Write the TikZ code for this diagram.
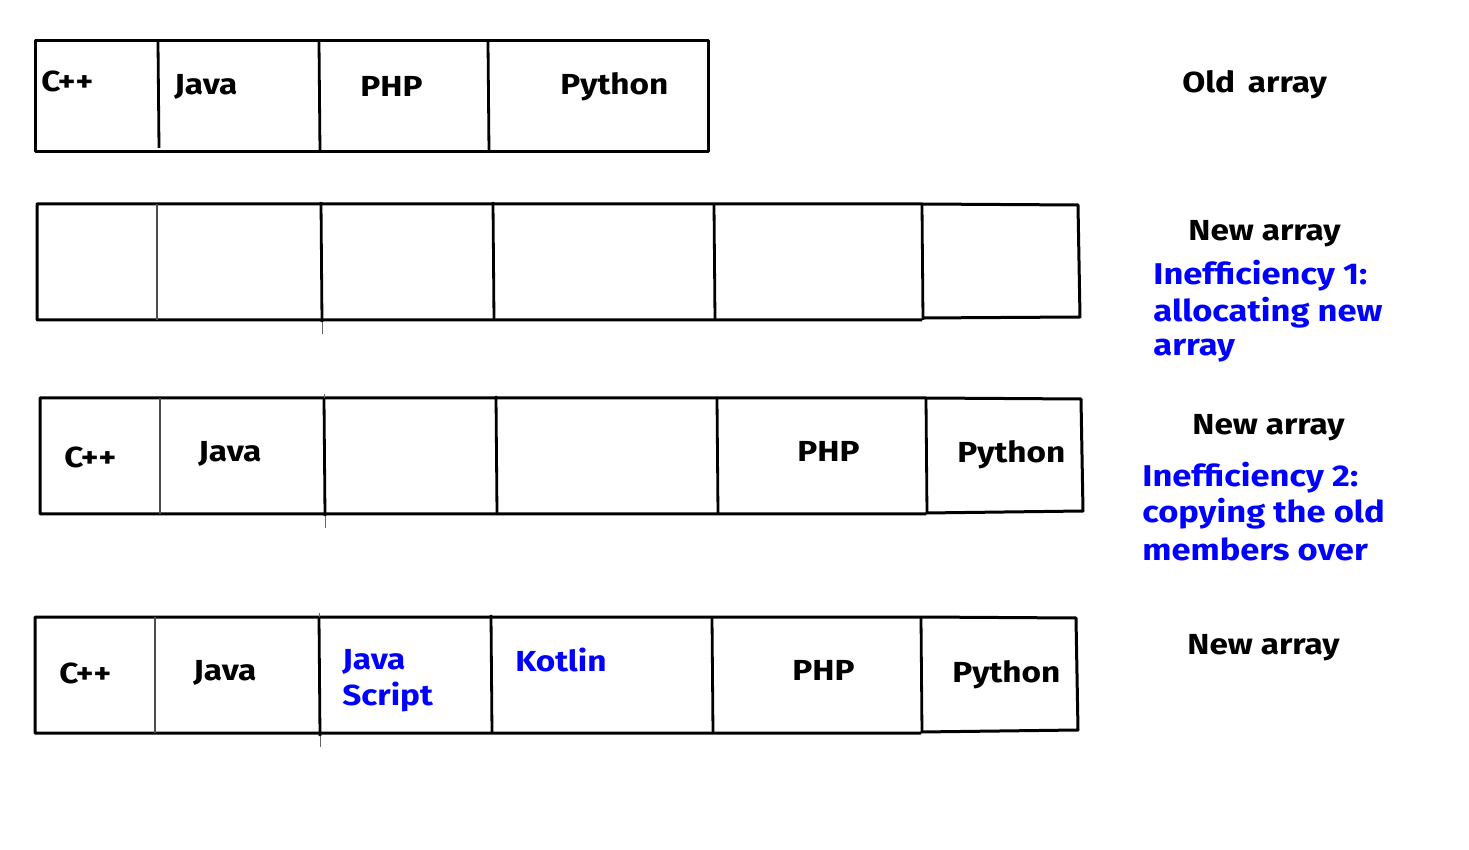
\documentclass[tikz,border=0pt]{standalone}
\usepackage{fontspec}
\setmainfont[FakeStretch=1.15]{Fira Sans}
\begin{document}
\begin{tikzpicture}[x=0.5pt,y=-0.5pt,
  frame/.style={line width=1.5pt, black, line join=round},
  divider/.style={line width=1.4pt, black},
  graydiv/.style={line width=1pt, black!70},
  tail/.style={line width=0.4pt, black!60},
  lbl/.style={anchor=base west, inner sep=0pt, font=\bfseries\fontsize{14.5}{18}\selectfont},
  blbl/.style={lbl, text=blue},
  note/.style={anchor=base west, inner sep=0pt, text=blue, font=\bfseries\fontsize{15}{18}\selectfont},
]
\path[use as bounding box, fill=white] (0,0) rectangle (1469,850);

% ---------- Row 1: old array ----------
\draw[frame] (35,41) rectangle (708,152);
\draw[divider] (158,42) -- (159,148);
\draw[divider] (319,42) -- (320,152);
\draw[divider] (488,42) -- (489,152);
\node[lbl] (r1a) at (41,92) {C++};
\node[lbl] (r1b) at (174,95) {Java};
\node[lbl] (r1c) at (360,97) {PHP};
\node[lbl] (r1d) at (560,95) {Python};
\node[lbl] (old) at (1182,93) {Old\, array};

% ---------- Row 2: new empty array ----------
\draw[frame] (922,320) -- (37,320) -- (37,204) -- (922,204) -- (1078,205) -- (1080,317) -- (922,318);
\draw[graydiv] (157,204) -- (157,320);
\draw[divider] (321,202) -- (322,322);
\draw[tail] (322,322) -- (322,334);
\draw[divider] (493,202) -- (494,320);
\draw[divider] (714,204) -- (715,320);
\draw[divider] (922,204) -- (923,320);
\node[lbl] (new1) at (1188,241) {New array};
\node[note] (i1a) at (1153,285) {Inefficiency 1:};
\node[note] (i1b) at (1153,322) {allocating new};
\node[note] (i1c) at (1153,356) {array};

% ---------- Row 3: copied array ----------
\draw[frame] (926,514) -- (40,514) -- (40,398) -- (926,398) -- (1081,399) -- (1083,511) -- (926,513);
\draw[graydiv] (160,398) -- (160,514);
\draw[tail] (324,394) -- (324,398);
\draw[divider] (324,398) -- (325,516);
\draw[tail] (325,516) -- (325,528);
\draw[divider] (496,396) -- (497,514);
\draw[divider] (717,398) -- (718,514);
\draw[divider] (926,398) -- (927,514);
\node[lbl] (r3a) at (64,467) {C++};
\node[lbl] (r3b) at (198,462) {Java};
\node[lbl] (r3c) at (797,462) {PHP};
\node[lbl] (r3d) at (957,463) {Python};
\node[lbl] (new2) at (1192,435) {New array};
\node[note] (i2a) at (1142,487) {Inefficiency 2:};
\node[note] (i2b) at (1142,523) {copying the old};
\node[note] (i2c) at (1142,560) {members over};

% ---------- Row 4: final array ----------
\draw[frame] (921,733) -- (35,733) -- (35,617) -- (921,617) -- (1076,618) -- (1078,730) -- (921,732);
\draw[graydiv] (155,617) -- (155,733);
\draw[tail] (319,613) -- (319,617);
\draw[divider] (319,617) -- (320,736);
\draw[tail] (320,736) -- (320,747);
\draw[divider] (491,615) -- (492,733);
\draw[divider] (712,617) -- (713,733);
\draw[divider] (921,617) -- (922,733);
\node[lbl] (r4a) at (59,683) {C++};
\node[lbl] (r4b) at (193,680) {Java};
\node[blbl] (r4c) at (342,669) {Java};
\node[blbl] (r4c2) at (342,705) {Script};
\node[blbl] (r4d) at (515,671) {Kotlin};
\node[lbl] (r4e) at (792,680) {PHP};
\node[lbl] (r4f) at (952,682) {Python};
\node[lbl] (new3) at (1187,654) {New array};
\end{tikzpicture}
\end{document}
